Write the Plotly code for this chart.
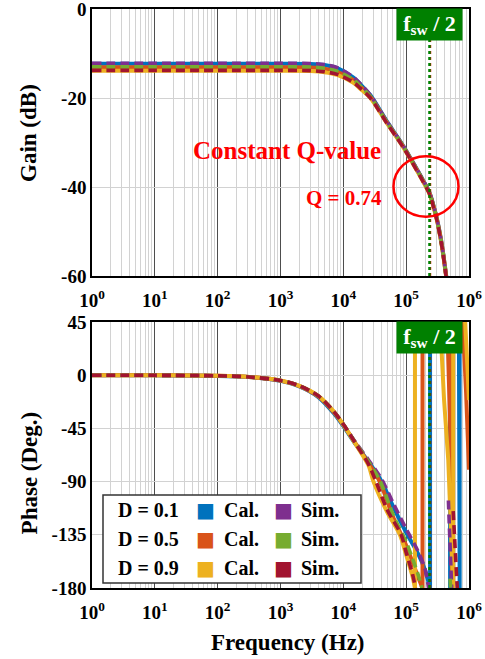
import numpy as np
import plotly.graph_objects as go

# ---------------- data ----------------
FREQ_GAIN = [1, 10, 100, 1000, 3000, 5000, 8000, 14500, 18600, 27000, 49000,
             91000, 148000, 186000, 234000, 270000, 309000, 372000, 427000, 480000]
GAIN_CAL_D01 = [-12.3, -12.3, -12.3, -12.3, -12.35, -12.6, -13.3, -15.4, -16.9, -19.4, -25.2,
                -30.9, -36.0, -38.5, -41.2, -44.0, -47.2, -53.2, -59.3, -65.0]
GAIN_CAL_D05 = [-13.1, -13.1, -13.1, -13.1, -13.15, -13.4, -14.1, -16.0, -17.4, -19.7, -25.4,
                -31.0, -36.1, -38.6, -41.3, -44.1, -47.3, -53.3, -59.3, -65.0]
GAIN_CAL_D09 = [-13.9, -13.9, -13.9, -13.9, -13.95, -14.2, -14.8, -16.6, -17.9, -20.0, -25.6,
                -31.2, -36.3, -38.8, -41.5, -44.3, -47.5, -53.5, -59.5, -65.0]
GAIN_SIM_D01 = [-12.2, -12.2, -12.2, -12.2, -12.25, -12.5, -13.2, -15.3, -16.8, -19.4, -25.2,
                -30.9, -36.0, -38.5, -41.2, -44.0, -47.2, -53.2, -59.3, -65.0]
GAIN_SIM_D05 = [-13.0, -13.0, -13.0, -13.0, -13.05, -13.3, -14.0, -15.9, -17.3, -19.7, -25.4,
                -31.0, -36.1, -38.6, -41.4, -44.1, -47.3, -53.3, -59.4, -65.0]
GAIN_SIM_D09 = [-13.8, -13.8, -13.8, -13.8, -13.85, -14.1, -14.7, -16.5, -17.8, -20.0, -25.6,
                -31.2, -36.3, -38.8, -41.5, -44.3, -47.5, -53.5, -59.5, -65.0]

FREQ_PH_HEAD = [1, 10, 100, 316, 1000, 2000, 4000, 7000, 10000, 16000, 25000]

PH_CAL_D01_F = FREQ_PH_HEAD + [40700, 63100, 100000, 158000, 200000, 240000]
PH_CAL_D01 = [0, -0.1, -0.6, -1.6, -4.8, -9.5, -18.5, -32, -43, -59, -73,
              -90, -112, -133, -152, -165, -180]
PH_CAL_D05_F = FREQ_PH_HEAD + [38000, 63100, 100000, 126000, 158000, 182000]
PH_CAL_D05 = [0, -0.1, -0.5, -1.5, -4.6, -9.2, -18, -31, -42, -58.5, -74,
              -90, -121, -144, -158, -172, -180]
PH_CAL_D09_F = FREQ_PH_HEAD + [30200, 50100, 79400, 100000, 126000, 138000]
PH_CAL_D09 = [0, -0.1, -0.5, -1.5, -4.5, -9, -17.5, -30.5, -42, -59, -76,
              -90, -116, -135, -152, -170, -180]

PH_SIM_D01_F = FREQ_PH_HEAD + [40700, 63100, 100000, 158000, 200000, 227000]
PH_SIM_D01 = [0, -0.1, -0.5, -1.5, -4.5, -9, -17.5, -30.5, -41.5, -57.5, -71.5,
              -88, -109, -130, -150, -164, -180]
PH_SIM_D05_F = FREQ_PH_HEAD + [38900, 63100, 100000, 126000, 158000, 178000]
PH_SIM_D05 = [0, -0.1, -0.5, -1.5, -4.5, -9, -17.5, -30.5, -41.5, -58, -73,
              -90, -119, -141, -155, -170, -180]
PH_SIM_D09_F = FREQ_PH_HEAD + [33100, 50100, 83200, 100000, 126000, 141000]
PH_SIM_D09 = [0, -0.1, -0.5, -1.5, -4.5, -9, -17.5, -30.5, -41.5, -58.5, -75,
              -90, -114, -135, -150, -168, -180]

# phase-wrapped high-frequency parts
TAIL_CAL_D01_F = [240000, 240000, 480000, 495000, 500000, 500000, 690000, 710000, 710000, 1000000]
TAIL_CAL_D01 = [-180, 180, 60, 45, -180, 180, 45, -180, 180, 120]
TAIL_CAL_D05_F = [182000, 182000, 400000, 450000, 500000, 540000, 540000, 760000, 795000, 900000, 1000000]
TAIL_CAL_D05 = [-180, 180, 70, 45, -40, -180, 180, 60, 45, -15, -80]
TAIL_CAL_D09_F = [138000, 138000, 320000, 347000, 400000, 468000, 560000, 560000, 840000, 870000, 1000000]
TAIL_CAL_D09 = [-180, 180, 70, 45, -20, -72, -180, 180, 50, 45, -21]
TAIL_SIM_D01_F = [470000, 530000]
TAIL_SIM_D01 = [-106, -180]
TAIL_SIM_D05_F = [500000, 510000]
TAIL_SIM_D05 = [-172, -180]
TAIL_SIM_D09_F = [560000, 650000]
TAIL_SIM_D09 = [-115, -180]

FSW_HALF = 235000
FSW_HALF_RED = 245000

X_TICKS = [1, 10, 100, 1000, 10000, 100000, 1000000]
X_TICKTEXT = ["10<sup>0</sup>", "10<sup>1</sup>", "10<sup>2</sup>", "10<sup>3</sup>",
              "10<sup>4</sup>", "10<sup>5</sup>", "10<sup>6</sup>"]
GAIN_TICKS = [0, -20, -40, -60]
GAIN_TICKTEXT = ["0", "-20", "-40", "-60"]
PHASE_TICKS = [45, 0, -45, -90, -135, -180]
PHASE_TICKTEXT = ["45", "0", "-45", "-90", "-135", "-180"]

LEGEND_ROWS = ["D = 0.1", "D = 0.5", "D = 0.9"]

# ---------------- styling ----------------
BLUE, ORANGE, YELLOW = "#0072BD", "#D95319", "#EDB120"
PURPLE, GREEN, RED = "#7E2F8E", "#77AC30", "#A2142F"
CAL_W, SIM_W = 4, 3.6
DASH = "9px,5px"
SERIF = "Liberation Serif"

fig = go.Figure()


def add(x, y, color, dash, width, xa, ya, shape="spline"):
    fig.add_trace(go.Scatter(x=x, y=y, mode="lines", xaxis=xa, yaxis=ya,
                             line=dict(color=color, width=width, dash=dash, shape=shape,
                                       smoothing=0.8 if shape == "spline" else None),
                             showlegend=False, hoverinfo="skip"))


# gain
for g, c in [(GAIN_CAL_D01, BLUE), (GAIN_CAL_D05, ORANGE), (GAIN_CAL_D09, YELLOW)]:
    add(FREQ_GAIN, g, c, "solid", CAL_W, "x", "y")
for g, c in [(GAIN_SIM_D01, PURPLE), (GAIN_SIM_D05, GREEN), (GAIN_SIM_D09, RED)]:
    add(FREQ_GAIN, g, c, DASH, SIM_W, "x", "y")

# phase
for f, p, tf, tp, c in [(PH_CAL_D01_F, PH_CAL_D01, TAIL_CAL_D01_F, TAIL_CAL_D01, BLUE),
                        (PH_CAL_D05_F, PH_CAL_D05, TAIL_CAL_D05_F, TAIL_CAL_D05, ORANGE),
                        (PH_CAL_D09_F, PH_CAL_D09, TAIL_CAL_D09_F, TAIL_CAL_D09, YELLOW)]:
    add(f, p, c, "solid", CAL_W, "x2", "y2")
    add(tf, tp, c, "solid", CAL_W, "x2", "y2", shape="linear")
for f, p, tf, tp, c in [(PH_SIM_D01_F, PH_SIM_D01, TAIL_SIM_D01_F, TAIL_SIM_D01, PURPLE),
                        (PH_SIM_D05_F, PH_SIM_D05, TAIL_SIM_D05_F, TAIL_SIM_D05, GREEN),
                        (PH_SIM_D09_F, PH_SIM_D09, TAIL_SIM_D09_F, TAIL_SIM_D09, RED)]:
    add(f, p, c, DASH, SIM_W, "x2", "y2")
    add(tf, tp, c, DASH, SIM_W, "x2", "y2", shape="linear")

# fsw/2 markers
for xa, ya, yr in [("x", "y", [-60, 0]), ("x2", "y2", [-180, 45])]:
    add([FSW_HALF_RED, FSW_HALF_RED], yr, "#FF0000", "dot", 1.2, xa, ya, shape="linear")
    add([FSW_HALF, FSW_HALF], yr, "#008000", "dot", 2.5, xa, ya, shape="linear")

axis_common = dict(type="log", range=[0, 6], tickvals=X_TICKS, ticktext=X_TICKTEXT,
                   showgrid=True, gridcolor="#4d4d4d", gridwidth=1.2,
                   minor=dict(dtick="D1", showgrid=True, gridcolor="#d2d2d2", gridwidth=1.4),
                   showline=True, linecolor="black", linewidth=1.5, mirror=True,
                   ticks="", zeroline=False, automargin=False, ticklabeloverflow="allow",
                   ticklabelstandoff=6,
                   tickfont=dict(family=SERIF, size=19, color="black", weight="bold"))
yaxis_common = dict(showgrid=True, gridcolor="#d2d2d2", gridwidth=1.4,
                    showline=True, linecolor="black", linewidth=1.5, mirror=True,
                    ticks="", zeroline=False, automargin=False, ticklabeloverflow="allow",
                    tickfont=dict(family=SERIF, size=19, color="black", weight="bold"))

top_lo = (588 - 276) / 579.0
bot_hi = (588 - 322) / 579.0

fig.update_layout(
    width=485, height=659, autosize=False,
    margin=dict(l=92, r=16, t=9, b=71, autoexpand=False),
    paper_bgcolor="white", plot_bgcolor="white",
    xaxis=dict(axis_common, domain=[0, 1], anchor="y"),
    yaxis=dict(yaxis_common, domain=[top_lo, 1], anchor="x", range=[-60, 0],
               tickvals=GAIN_TICKS, ticktext=GAIN_TICKTEXT),
    xaxis2=dict(axis_common, domain=[0, 1], anchor="y2"),
    yaxis2=dict(yaxis_common, domain=[0, bot_hi], anchor="x2", range=[-180, 45],
                tickvals=PHASE_TICKS, ticktext=PHASE_TICKTEXT),
    showlegend=False,
)

title_font = dict(family=SERIF, size=23, color="black", weight="bold")
ann = []
ann.append(dict(text="Gain (dB)", xref="paper", yref="paper", x=-0.167, y=0.786,
                xanchor="center", yanchor="middle",
                textangle=-90, showarrow=False, font=title_font))
ann.append(dict(text="Phase (Deg.)", xref="paper", yref="paper", x=-0.167, y=0.198,
                xanchor="center", yanchor="middle",
                textangle=-90, showarrow=False, font=title_font))
ann.append(dict(text="Frequency (Hz)", xref="paper", yref="paper", x=0.52, y=-0.094,
                xanchor="center", yanchor="middle",
                showarrow=False, font=title_font))

# fsw/2 tags
for xr, yr in [("x", "y domain"), ("x2", "y2 domain")]:
    ann.append(dict(text="f<sub>sw</sub> / 2", xref=xr, yref=yr, x=np.log10(FSW_HALF) - 0.005,
                    y=1.003, yanchor="top", xanchor="center", showarrow=False,
                    bgcolor="#008000", width=61, height=27, borderpad=2,
                    font=dict(family=SERIF, size=22, color="white", weight="bold")))

# Q annotations
ann.append(dict(text="Constant Q-value", xref="x", yref="y", x=3.097, y=-31.8,
                xanchor="center", yanchor="middle",
                showarrow=False, font=dict(family=SERIF, size=25, color="#FF0000", weight="bold")))
ann.append(dict(text="Q = 0.74", xref="x", yref="y", x=4.013, y=-42.5,
                xanchor="center", yanchor="middle",
                showarrow=False, font=dict(family=SERIF, size=21, color="#FF0000", weight="bold")))

# legend (drawn in the phase panel)
leg_font = dict(family=SERIF, size=20, color="black", weight="bold")
rows_y = [(588 - 510) / 266.0, (588 - 539) / 266.0, (588 - 568) / 266.0]


def dx(px):
    return (px - 92) / 377.0


for i, (lab, cc, sc) in enumerate(zip(LEGEND_ROWS, [BLUE, ORANGE, YELLOW], [PURPLE, GREEN, RED])):
    yy = rows_y[i]
    ann.append(dict(text=lab, xref="x2 domain", yref="y2 domain", x=dx(116), y=yy,
                    xanchor="left", yanchor="middle", showarrow=False, font=leg_font))
    ann.append(dict(text="■", xref="x2 domain", yref="y2 domain", x=dx(205), y=yy,
                    xanchor="center", yanchor="middle", showarrow=False,
                    font=dict(family="DejaVu Sans", size=20, color=cc)))
    ann.append(dict(text="Cal.", xref="x2 domain", yref="y2 domain", x=dx(222), y=yy,
                    xanchor="left", yanchor="middle", showarrow=False, font=leg_font))
    ann.append(dict(text="■", xref="x2 domain", yref="y2 domain", x=dx(283.5), y=yy,
                    xanchor="center", yanchor="middle", showarrow=False,
                    font=dict(family="DejaVu Sans", size=20, color=sc)))
    ann.append(dict(text="Sim.", xref="x2 domain", yref="y2 domain", x=dx(299), y=yy,
                    xanchor="left", yanchor="middle", showarrow=False, font=leg_font))

fig.update_layout(annotations=ann)

shapes = [
    dict(type="circle", xref="x", yref="y", x0=62800, x1=681000, y0=-33.1, y1=-46.7,
         line=dict(color="#FF0000", width=2.5)),
    dict(type="rect", xref="x2 domain", yref="y2 domain",
         x0=dx(103), x1=dx(361), y0=(588 - 583) / 266.0, y1=(588 - 495) / 266.0,
         line=dict(color="#333333", width=1.5), fillcolor="white", layer="above"),
]
fig.update_layout(shapes=shapes)

fig.write_html("out.html", include_plotlyjs=True, full_html=True,
               config={"displayModeBar": False},
               post_script="document.body.style.margin='0';document.body.style.overflow='hidden';")
